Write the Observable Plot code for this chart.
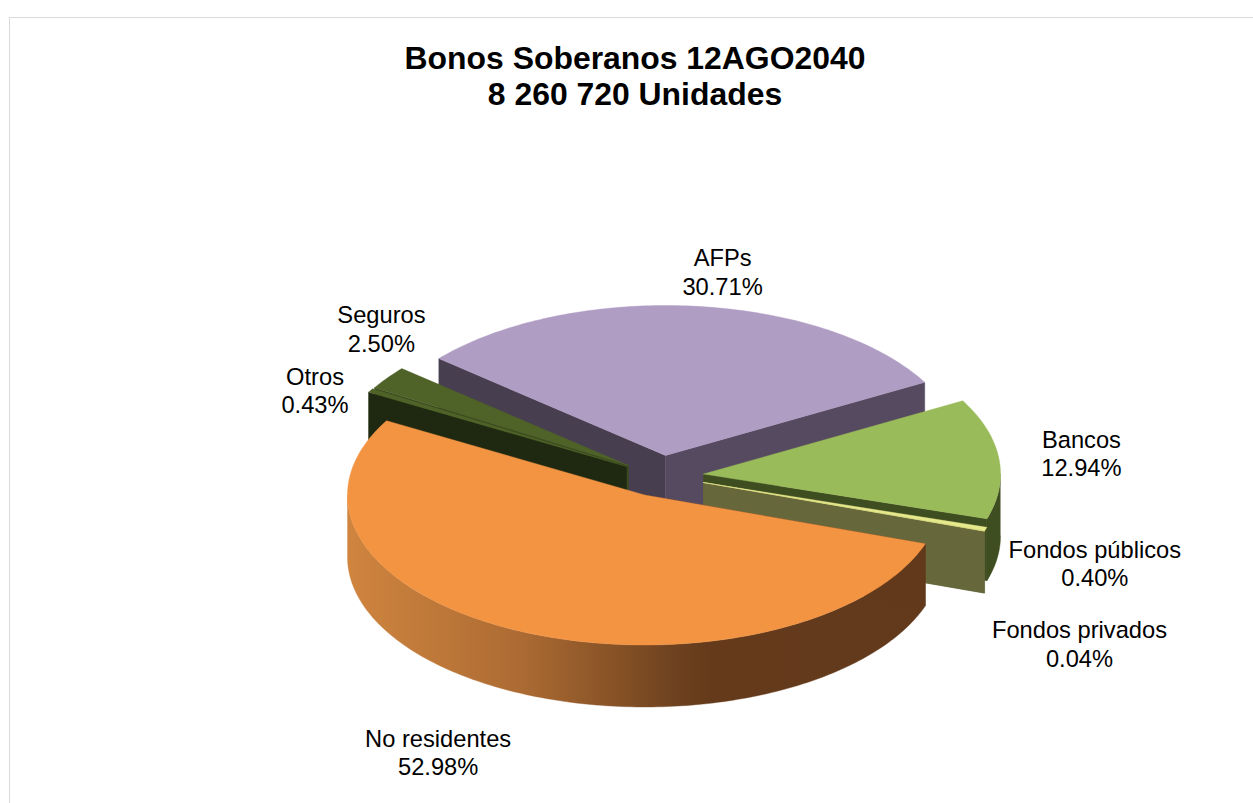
<!DOCTYPE html>
<html><head><meta charset="utf-8">
<script src="https://cdn.jsdelivr.net/npm/d3@7"></script>
<script src="https://cdn.jsdelivr.net/npm/@observablehq/plot@0.6"></script>
<style>
html,body{margin:0;padding:0;background:#fff;overflow:hidden}
#page{position:relative;width:1253px;height:803px;font-family:"Liberation Sans",Arial,sans-serif}
#frame{position:absolute;left:9px;top:17px;right:0;bottom:0;border-left:1.5px solid #d9d9d9;border-top:1.5px solid #d9d9d9}
#title{position:absolute;left:0;top:40px;width:1270px;margin:0;text-align:center;font-size:31.9px;line-height:36px;font-weight:bold;color:#000}
#chart{position:absolute;left:0;top:120px}
</style></head><body>
<div id="page"><div id="frame"></div>
<h1 id="title">Bonos Soberanos 12AGO2040<br>8 260 720 Unidades</h1>
<div id="chart"></div></div>
<script>
const categories = ["Bancos","Fondos públicos","Fondos privados","No residentes","Otros","Seguros","AFPs"];
const shares = [12.94,0.40,0.04,52.98,0.43,2.50,30.71];
// presentation only
const topColors  = ["#9abb59","#e6e88c","#e6e88c","#f39443","#4f6228","#4f6228","#b09dc4"];
const wallColors = ["#3f4e20","#66683c","#66683c","url(#orangeWall)","#1f2810","#3a4a1c","#564a60"];
const centers = [[703,473.5],[703,482],[703,482],[644,494.5],[626,466],[628,465],[665,455]];
const labelOffsets = [[82.5,-5.5],[109,33.9],[95,112.5],[-84,120],[-55.5,-0.5],[-6,-49.5],[28.5,-35]];
const rx = 297, ry = 150, depth = 62, startAngle = -29.2;

// angles from values
let acc = startAngle;
const slices = categories.map((name,i)=>{
  const a0 = acc, a1 = acc + shares[i]*3.6; acc = a1;
  return {name,share:shares[i],a0,a1,c:centers[i],top:topColors[i],wall:wallColors[i],off:labelOffsets[i]};
});
const rim = (s,deg,dz=0)=>{const t=deg*Math.PI/180;return {x:s.c[0]+rx*Math.cos(t),y:s.c[1]+ry*Math.sin(t)+dz};};
const arc = (s,a,b,dz=0)=>{const n=Math.max(2,Math.ceil(Math.abs(b-a)));return d3.range(n+1).map(k=>rim(s,a+(b-a)*k/n,dz));};
const topPoly = s=>{const o={x:s.c[0],y:s.c[1]};return [o,...arc(s,s.a0,s.a1),o];};
const radial = (s,deg)=>{const o={x:s.c[0],y:s.c[1]},p=rim(s,deg);
  return [o,p,{x:p.x,y:p.y+depth},{x:o.x,y:o.y+depth},o];};
const outer = (s,a,b)=>[...arc(s,a,b),...arc(s,b,a,depth)];
const poly = (pts,c)=>Plot.line(pts,{x:"x",y:"y",fill:c,stroke:c,strokeWidth:0.4,curve:"linear"});

const [bancos,pub,priv,noRes,otros,seguros,afps]=slices;
const marks = [
  ()=>{const d=d3.create("svg:defs");
    const g=d.append("linearGradient").attr("id","orangeWall").attr("gradientUnits","userSpaceOnUse")
      .attr("x1",347).attr("x2",925).attr("y1",0).attr("y2",0);
    [[0,"#d0853f"],[.3,"#ac6b33"],[.45,"#8a5427"],[.565,"#6e421f"],[.63,"#643a1b"],[1,"#623a1b"]]
      .forEach(([o,c])=>g.append("stop").attr("offset",o).attr("stop-color",c));
    return d.node();},
  // back to front
  poly(radial(afps,afps.a0),"#473f50"), poly(radial(afps,afps.a1),afps.wall), poly(topPoly(afps),afps.top),
  poly(radial(seguros,seguros.a0),seguros.wall), poly(topPoly(seguros),seguros.top),
  poly(radial(otros,otros.a0),otros.wall), poly(topPoly(otros),otros.top),
  poly(outer(bancos,0,bancos.a1),bancos.wall), poly(radial(bancos,bancos.a1),bancos.wall), poly(topPoly(bancos),bancos.top),
  poly(radial(priv,priv.a1),priv.wall), poly(radial(pub,pub.a1),pub.wall),
  poly(topPoly(pub),pub.top), poly(topPoly(priv),priv.top),
  poly(outer(noRes,noRes.a0,180),noRes.wall), poly(radial(noRes,noRes.a0),"#623a1b"), poly(topPoly(noRes),noRes.top),
  Plot.text(slices,{
    x:s=>rim(s,(s.a0+s.a1)/2).x+s.off[0],
    y:s=>rim(s,(s.a0+s.a1)/2).y+s.off[1],
    text:s=>`${s.name}\n${s.share.toFixed(2)}%`,
    fontSize:23.7,lineHeight:1.2,fill:"#000",textAnchor:"middle",lineAnchor:"middle",
    fontFamily:"Liberation Sans"})
];
document.getElementById("chart").append(Plot.plot({
  width:1253,height:683,margin:0,
  x:{axis:null,domain:[0,1253],range:[0,1253]},
  y:{axis:null,domain:[120,803],range:[0,683]},
  style:{background:"transparent",overflow:"visible"},
  marks
}));
</script></body></html>
